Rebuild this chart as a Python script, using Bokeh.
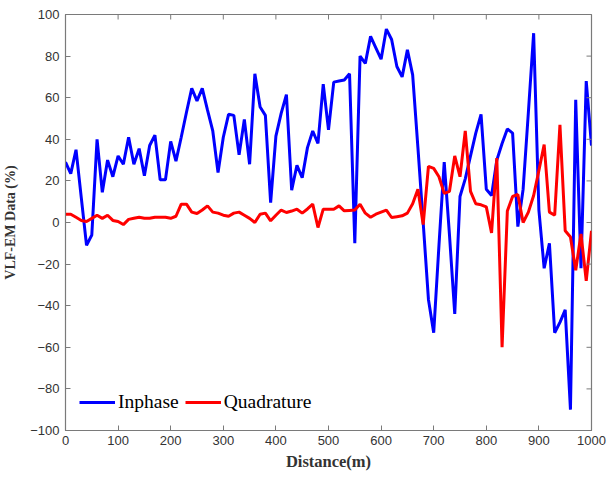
import math
from bokeh.plotting import figure
from bokeh.models import Range1d, FixedTicker, Legend, LegendItem
from bokeh.embed import file_html
from bokeh.resources import INLINE

distance = list(range(0, 1001, 10))

inphase = [
    29, 23.5, 35, 12, -11, -6, 40, 14.5, 30, 22,
    32, 28, 41, 28, 35.5, 22.5, 37, 42, 20.5, 20.5,
    39, 29.5, 41, 53, 64.5, 58.5, 64.5, 54, 44, 24,
    41, 52, 51.5, 32.5, 49.5, 28, 71.5, 55.5, 51.5, 9.5,
    41.5, 52.5, 61.5, 15.5, 27.5, 21.5, 36, 44, 38, 66.5,
    44.5, 67.5, 68, 68.5, 71.5, -10, 80, 76.5, 89.5, 84,
    78.5, 93, 88, 75, 70, 83, 71, 36, 0, -37,
    -53, -11, 29, -6, -44, 12.5, 21, 32, 43, 52,
    16, 13, 30, 38, 45, 43, -2, 16, 53, 91,
    6, -22, -10, -53, -48, -42, -90, 59, -22, 68,
    37,
]

quadrature = [
    4, 4, 2.5, 1, 0.5, 2, 3.5, 2, 3.5, 1,
    0.5, -1, 1.5, 2, 2.5, 2, 2, 2.5, 2.5, 2.5,
    2, 3, 8.8, 8.8, 5, 4.3, 6, 8, 5, 4.5,
    3.5, 3, 4.5, 5, 3.5, 2, 0, 4, 4.5, 0.8,
    3.5, 6, 4.8, 5.5, 6.4, 4.5, 6.5, 8.8, -2.4, 6.4,
    6.4, 6.4, 8, 5.6, 5.8, 6, 8.8, 4.5, 2.5, 4,
    5, 6, 2.4, 2.8, 3.2, 4.5, 9, 16, -1, 27,
    26, 22, 14, 15, 32, 22, 44, 15, 9, 8.5,
    7.5, -5, 31, -60, 5.5, 12.5, 13.5, 0, 5, 13,
    25, 37.5, 5, 3.5, 47, -4, -7, -23, -5.5, -28,
    -4,
]

x_ticks = list(range(0, 1001, 100))
y_ticks = list(range(-100, 101, 20))
x_min, x_max = 0, 1000
y_min, y_max = -100, 100

AXIS_COLOR = "#7a7a7a"
TICK_LABEL_COLOR = "#333333"

p = figure(width=610, height=477, output_backend="svg", toolbar_location=None,
           x_range=Range1d(x_min, x_max), y_range=Range1d(y_min, y_max),
           min_border_left=64, min_border_right=19, min_border_top=14,
           min_border_bottom=47)
p.background_fill_color = "white"
p.border_fill_color = "white"
p.outline_line_color = AXIS_COLOR
p.outline_line_width = 1.2
p.xgrid.visible = False
p.ygrid.visible = False

r_in = p.line(distance, inphase, line_color="#0000FF", line_width=3)
r_q = p.line(distance, quadrature, line_color="#FF0000", line_width=3)

for ax in (p.xaxis[0], p.yaxis[0]):
    ax.axis_line_color = AXIS_COLOR
    ax.major_tick_line_color = AXIS_COLOR
    ax.minor_tick_line_color = None
    ax.major_tick_in = 5
    ax.major_tick_out = 0
    ax.major_label_text_font = "Liberation Sans"
    ax.major_label_text_font_size = "13px"
    ax.major_label_text_color = TICK_LABEL_COLOR
    ax.axis_label_text_font = "Liberation Serif"
    ax.axis_label_text_font_style = "bold"
    ax.axis_label_text_color = "#333333"

p.xaxis[0].ticker = FixedTicker(ticks=x_ticks)
p.yaxis[0].ticker = FixedTicker(ticks=y_ticks)
p.xaxis[0].axis_label = "Distance(m)"
p.yaxis[0].axis_label = "VLF-EM Data (%)"
p.xaxis[0].axis_label_text_font_size = "16.5px"
p.yaxis[0].axis_label_text_font_size = "14px"
p.xaxis[0].major_label_standoff = 5
p.yaxis[0].major_label_standoff = 6
p.xaxis[0].axis_label_standoff = 4
p.yaxis[0].axis_label_standoff = 9

# mirrored inward ticks on top and right edges (box style)
p.ray(x=x_ticks, y=[y_max] * len(x_ticks), length=5, length_units="screen",
      angle=-math.pi / 2, line_color=AXIS_COLOR, line_width=1)
p.ray(x=[x_max] * len(y_ticks), y=y_ticks, length=5, length_units="screen",
      angle=math.pi, line_color=AXIS_COLOR, line_width=1)

legend = Legend(items=[LegendItem(label="Inphase", renderers=[r_in]),
                       LegendItem(label="Quadrature", renderers=[r_q])],
                orientation="horizontal", location=(8, 11))
legend.label_text_font = "Liberation Serif"
legend.label_text_font_size = "19.5px"
legend.label_text_color = "#000000"
legend.glyph_width = 36
legend.glyph_height = 20
legend.spacing = 6
legend.padding = 6
legend.label_standoff = 3
legend.border_line_alpha = 0
legend.background_fill_color = "white"
legend.background_fill_alpha = 1
p.add_layout(legend, "center")

open("out.html", "w").write(file_html(p, INLINE))
